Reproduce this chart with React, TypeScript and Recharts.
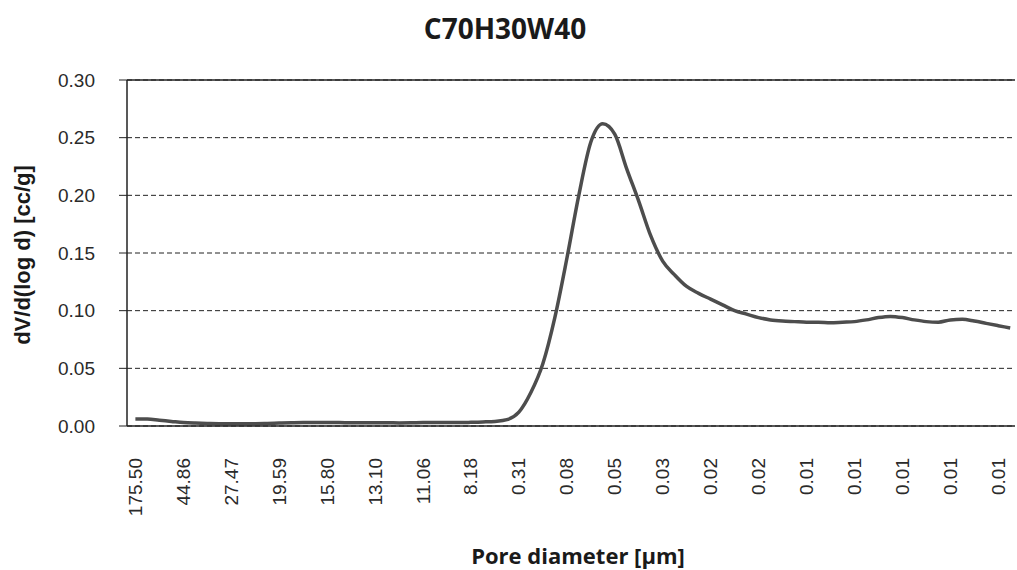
import React from 'react';
import { LineChart, Line, XAxis, YAxis, CartesianGrid, ReferenceLine, Label } from 'recharts';

// pore diameter labels shown every 4th point
const diameterTicks = [
  '175.50', '44.86', '27.47', '19.59', '15.80', '13.10', '11.06', '8.18', '0.31',
  '0.08', '0.05', '0.03', '0.02', '0.02', '0.01', '0.01', '0.01', '0.01', '0.01',
];

// dV/d(log d), one value per point
const dvValues = [
  0.006, 0.006, 0.005, 0.004, 0.003, 0.0025, 0.0022, 0.002, 0.002, 0.002,
  0.002, 0.0022, 0.0025, 0.0028, 0.003, 0.003, 0.003, 0.003, 0.0028, 0.0028,
  0.0028, 0.0028, 0.0027, 0.0028, 0.003, 0.003, 0.003, 0.003, 0.0032, 0.0035,
  0.004, 0.0055, 0.012, 0.029, 0.054, 0.094, 0.145, 0.2, 0.246, 0.262,
  0.253, 0.223, 0.195, 0.165, 0.143, 0.131, 0.121, 0.115, 0.11, 0.105,
  0.1, 0.097, 0.094, 0.092, 0.091, 0.0905, 0.09, 0.09, 0.0895, 0.09,
  0.0905, 0.092, 0.094, 0.095, 0.094, 0.092, 0.0905, 0.09, 0.092, 0.0925,
  0.091, 0.089, 0.087, 0.085,
];

const yTicks = [0, 0.05, 0.1, 0.15, 0.2, 0.25, 0.3];
const TICK_STEP = 4;

const data = dvValues.map((v, i) => ({ i, v }));
const xTicks = diameterTicks.map((_, k) => k * TICK_STEP);

const tickFont = { fontFamily: '"Liberation Sans", Arial, sans-serif', fontSize: 19, fill: '#2a2a2a' };

const XTick = (props: any) => {
  const { x, y, payload } = props;
  const label = diameterTicks[Math.round(payload.value / TICK_STEP)];
  return (
    <text
      x={x}
      y={y}
      transform={`rotate(-90 ${x} ${y})`}
      textAnchor="end"
      dominantBaseline="central"
      {...tickFont}
    >
      {label}
    </text>
  );
};

export default function App() {
  return (
    <div style={{ position: 'absolute', left: 0, top: 0, width: 1017, height: 570, background: '#fff' }}>
      <div
        style={{
          position: 'absolute',
          left: 0,
          width: 1010,
          top: 9,
          textAlign: 'center',
          fontFamily: '"Open Sans", sans-serif',
          fontWeight: 700,
          fontSize: 28,
          color: '#1a1a1a',
        }}
      >
        C70H30W40
      </div>
      <LineChart width={1017} height={570} data={data} margin={{ top: 80, right: 2, bottom: 0, left: 0 }}>
        <CartesianGrid vertical={false} stroke="#222" strokeDasharray="5 3" />
        <XAxis
          dataKey="i"
          type="number"
          domain={[-0.7, 73.4]}
          allowDataOverflow
          ticks={xTicks}
          interval={0}
          height={144}
          tickSize={0}
          tickMargin={32}
          tickLine={false}
          axisLine={{ stroke: '#222', strokeWidth: 1.5 }}
          tick={<XTick />}
        >
          <Label
            value="Pore diameter [µm]"
            position="insideBottom"
            offset={6}
            dx={7}
            style={{ fontFamily: '"Open Sans", sans-serif', fontWeight: 700, fontSize: 22, fill: '#1a1a1a' }}
          />
        </XAxis>
        <YAxis
          width={127}
          domain={[0, 0.3]}
          ticks={yTicks}
          tickFormatter={(v: number) => v.toFixed(2)}
          tickSize={8}
          tickMargin={24}
          axisLine={{ stroke: '#222', strokeWidth: 1.5 }}
          tickLine={{ stroke: '#222' }}
          tick={tickFont}
        >
          <Label
            value="dV/d(log d) [cc/g]"
            angle={-90}
            position="insideLeft"
            offset={22}
            dy={2}
            style={{ textAnchor: 'middle', fontFamily: '"Liberation Sans", Arial, sans-serif', fontWeight: 700, fontSize: 22, fill: '#1a1a1a' }}
          />
        </YAxis>
        <ReferenceLine y={0.3} stroke="#222" strokeWidth={1.5} />
        <Line
          type="monotone"
          dataKey="v"
          stroke="#4d4d4d"
          strokeWidth={3.5}
          dot={false}
          isAnimationActive={false}
        />
      </LineChart>
    </div>
  );
}
